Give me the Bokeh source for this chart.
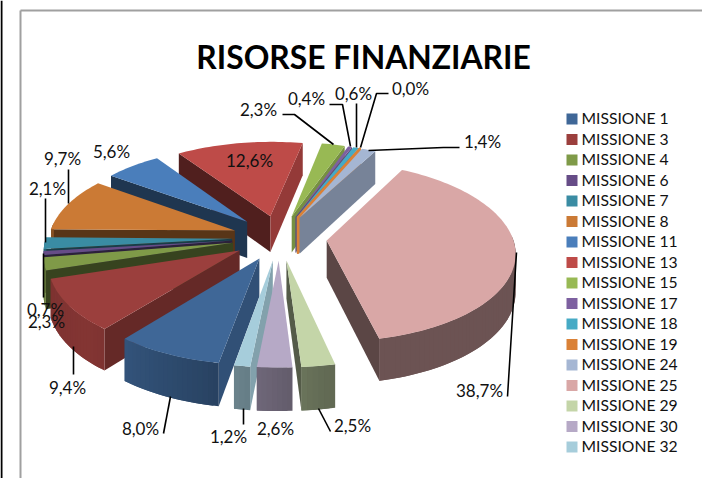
import numpy as np
from bokeh.plotting import figure
from bokeh.models import Range1d
from bokeh.core.properties import value
from bokeh.embed import file_html
from bokeh.resources import INLINE

names = ["MISSIONE 1","MISSIONE 3","MISSIONE 4","MISSIONE 6","MISSIONE 7","MISSIONE 8","MISSIONE 11","MISSIONE 13",
         "MISSIONE 15","MISSIONE 17","MISSIONE 18","MISSIONE 19","MISSIONE 24","MISSIONE 25","MISSIONE 29","MISSIONE 30","MISSIONE 32"]
shares = [8.0,9.4,2.3,0.7,2.1,9.7,5.6,12.6,2.3,0.4,0.6,0.04,1.4,38.7,2.5,2.6,1.2]
colors = ["#3F6797","#9B3F3D","#7F9A48","#664C87","#3A8CA3","#CB7A35","#4A7EBB","#BE4B48",
          "#98B954","#7D60A0","#46AAC5","#DA8137","#A5B6D3","#D9A7A6","#C4D5A8","#B6A9C6","#A6CDDB"]
title = "RISORSE FINANZIARIE"

# layout: pie model
CX, CY, RX, RY, DEPTH, PERSP, EXPLODE, FIRST = 279, 237, 186, 88, 37, 0.12, 0.255, 190.0
label_pos = [(140,428),(67,387),(46,321),(45,309),(47,188),(62,158),(111,151),(249,160),(258,109),(306,98),
             (353,93),(410,88),(482,141),(479,390),(352,425),(275,428),(228,436)]
leaders = [[(170,396),(163,433)],[(73,346),(73,374)],[(43,253),(43,297)],[],[(45,198),(45,242)],[(68,169),(68,203)],[],[],
           [(282,114),(294,114),(333,144)],[(329,104),(342,104),(350,146)],[(356,103),(356,147)],
           [(388,93),(376,93),(360,147)],[(459,147),(443,147),(368,150)],[(516,252),(507,396)],
           [(318,408),(330,431)],[],[(243,408),(243,424)]]

def shade(hex_color, f):
    c = [int(hex_color[i:i+2], 16) for i in (1, 3, 5)]
    return "#%02x%02x%02x" % tuple(int(min(255, v*f)) for v in c)

def project(X, Y, depth=0.0):
    s = 1/(1 - PERSP*Y)
    return CX + RX*X*s, CY + (RY*Y + depth)*s

def wall_factor(psi):
    return float(np.interp(psi % 360, [0, 60, 110, 160, 260, 360], [.8, .8, .78, .44, .42, .6]))

def outer_factor(t):
    return float(np.interp(t % 360, [90, 170, 195, 225, 260, 280], [.5, .5, .68, .85, .8, .6]))

xs, ys, fills, strokes = [], [], [], []
def add(poly, col, stroke=0.0):
    xs.append([p[0] for p in poly]); ys.append([p[1] for p in poly]); fills.append(col); strokes.append(stroke)

cum = np.cumsum([0] + shares)/sum(shares)*360
slices = []
for i, v in enumerate(shares):
    a0, a1 = FIRST + cum[i], FIRST + cum[i+1]
    slices.append((i, a0, a1, (a0+a1)/2))

def front_y(sl):
    return -np.cos(np.radians(sl[3]))

viewer_y = 1/PERSP
for i, a0, a1, mid in sorted(slices, key=front_y):
    col = colors[i]
    thin = shares[i] < 0.1
    ex, ey = EXPLODE*np.sin(np.radians(mid)), -EXPLODE*np.cos(np.radians(mid))
    th = np.radians(np.linspace(a0, a1, max(3, int((a1-a0)/1.5)+2)))
    rimX, rimY = ex + np.sin(th), ey - np.cos(th)
    # radial walls that face the viewer
    for ix, psi in ((0, a0-90), (-1, a1+90)):
        nx, ny = np.sin(np.radians(psi)), -np.cos(np.radians(psi))
        if nx*(0-ex) + ny*(viewer_y-ey) <= 0 and not thin:
            continue
        p0 = project(ex, ey); p1 = project(rimX[ix], rimY[ix])
        q0 = project(ex, ey, DEPTH); q1 = project(rimX[ix], rimY[ix], DEPTH)
        add([p0, p1, q1, q0], col if thin else shade(col, wall_factor(psi)), 1.5 if thin else 0.0)
    # rim wall in narrow strips, each overlapping the next
    for k in range(len(th)-1):
        if np.cos(th[k]) < 0.05 or np.cos(th[k+1]) < 0.05:
            n = min(k+2, len(th)-1)
            a = np.degrees((th[k]+th[k+1])/2)
            add([project(rimX[k], rimY[k]), project(rimX[n], rimY[n]),
                 project(rimX[n], rimY[n], DEPTH), project(rimX[k], rimY[k], DEPTH)],
                shade(col, outer_factor(a)))
    # top
    add([project(ex, ey)] + [project(a, b) for a, b in zip(rimX, rimY)], col, 1.5 if thin else 0.0)

W, H = 702, 478
p = figure(width=W, height=H, x_range=Range1d(0, W), y_range=Range1d(H, 0), output_backend="svg",
           toolbar_location=None, min_border=0, outline_line_color=None, background_fill_color="white",
           border_fill_color="white")
p.axis.visible = False
p.xaxis.visible = False
p.yaxis.visible = False
p.grid.visible = False

p.quad(left=[0], right=[2], top=[0], bottom=[H], fill_color="black", line_color=None)
p.segment(x0=[20, 20], y0=[10, 10], x1=[20, W], y1=[H, 10], line_color="#a0a0a0", line_width=2)

p.patches(xs, ys, fill_color=fills, line_color=fills, line_width=strokes)

lx, ly = [], []
for seg in leaders:
    if seg:
        lx.append([q[0] for q in seg]); ly.append([q[1] for q in seg])
p.multi_line(lx, ly, line_color="black", line_width=1.6)

p.text(x=[q[0] for q in label_pos], y=[q[1] for q in label_pos],
       text=[f"{v:.1f}".replace(".", ",") + "%" for v in shares],
       text_font=value("Lato"), text_font_size="17px", text_color="#111111",
       text_align="center", text_baseline="middle")

p.text(x=[363], y=[56.5], text=[title], text_font=value("Lato"), text_font_size="31.8px",
       text_font_style="bold", text_color="black", text_align="center", text_baseline="middle")

row0, step = 118.5, 20.5
rows = [row0 + step*i for i in range(len(names))]
p.rect(x=[571.5]*len(names), y=rows, width=11, height=11, fill_color=colors, line_color=None)
p.text(x=[581]*len(names), y=[r-1 for r in rows], text=names, text_font=value("Lato"), text_font_size="15.7px",
       text_color="#111111", text_align="left", text_baseline="middle")

open("out.html", "w").write(file_html(p, INLINE))
